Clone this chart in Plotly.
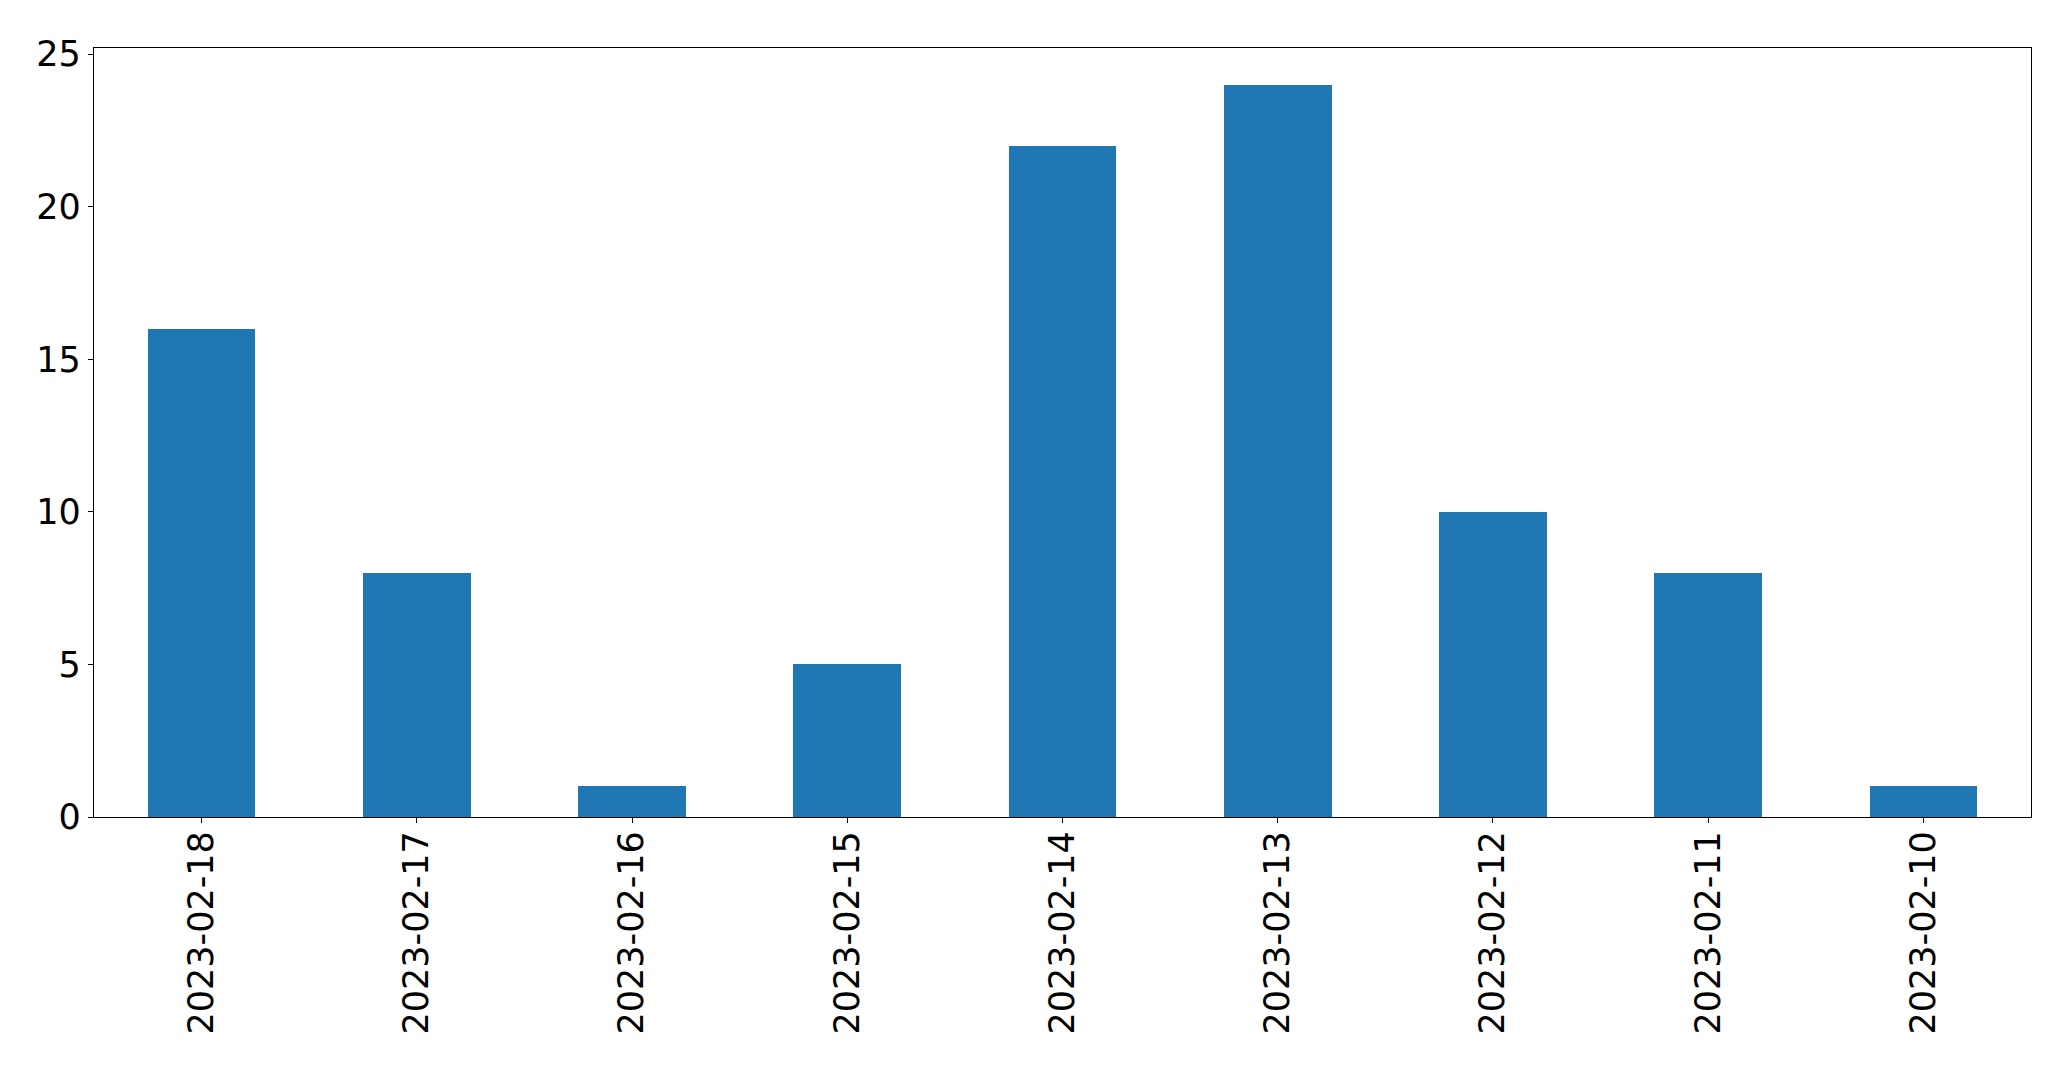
import plotly.graph_objects as go

dates = ["2023-02-18", "2023-02-17", "2023-02-16", "2023-02-15", "2023-02-14",
         "2023-02-13", "2023-02-12", "2023-02-11", "2023-02-10"]
counts = [16, 8, 1, 5, 22, 24, 10, 8, 1]
y_ticks = [0, 5, 10, 15, 20, 25]

W, H = 2071, 1069
fig = go.Figure()
fig.add_trace(go.Bar(x=list(range(len(dates))), y=counts, width=0.5,
                     marker=dict(color="#1f77b4", line=dict(width=0))))

font = dict(family="DejaVu Sans", size=35, color="black")
fig.update_layout(
    width=W, height=H, autosize=False,
    margin=dict(l=86, r=48, t=40, b=260, pad=0),
    paper_bgcolor="white", plot_bgcolor="white",
    showlegend=False, bargap=0,
    font=font,
)
fig.update_xaxes(range=[-0.5, len(dates) - 0.5], tickmode="array",
                 tickvals=list(range(len(dates))), ticktext=dates,
                 tickangle=-90, ticks="outside", ticklen=5, tickwidth=1.3,
                 tickcolor="black", showline=True, linecolor="black", linewidth=1.3,
                 mirror=True, showgrid=False, zeroline=False, tickfont=font,
                 ticklabelstandoff=-6)
fig.update_yaxes(range=[0, 25.2], tickmode="array", tickvals=y_ticks,
                 ticks="outside", ticklen=5, tickwidth=1.3, tickcolor="black",
                 showline=True, linecolor="black", linewidth=1.3, mirror=True,
                 showgrid=False, zeroline=False, tickfont=font)
fig.write_html("out.html")
